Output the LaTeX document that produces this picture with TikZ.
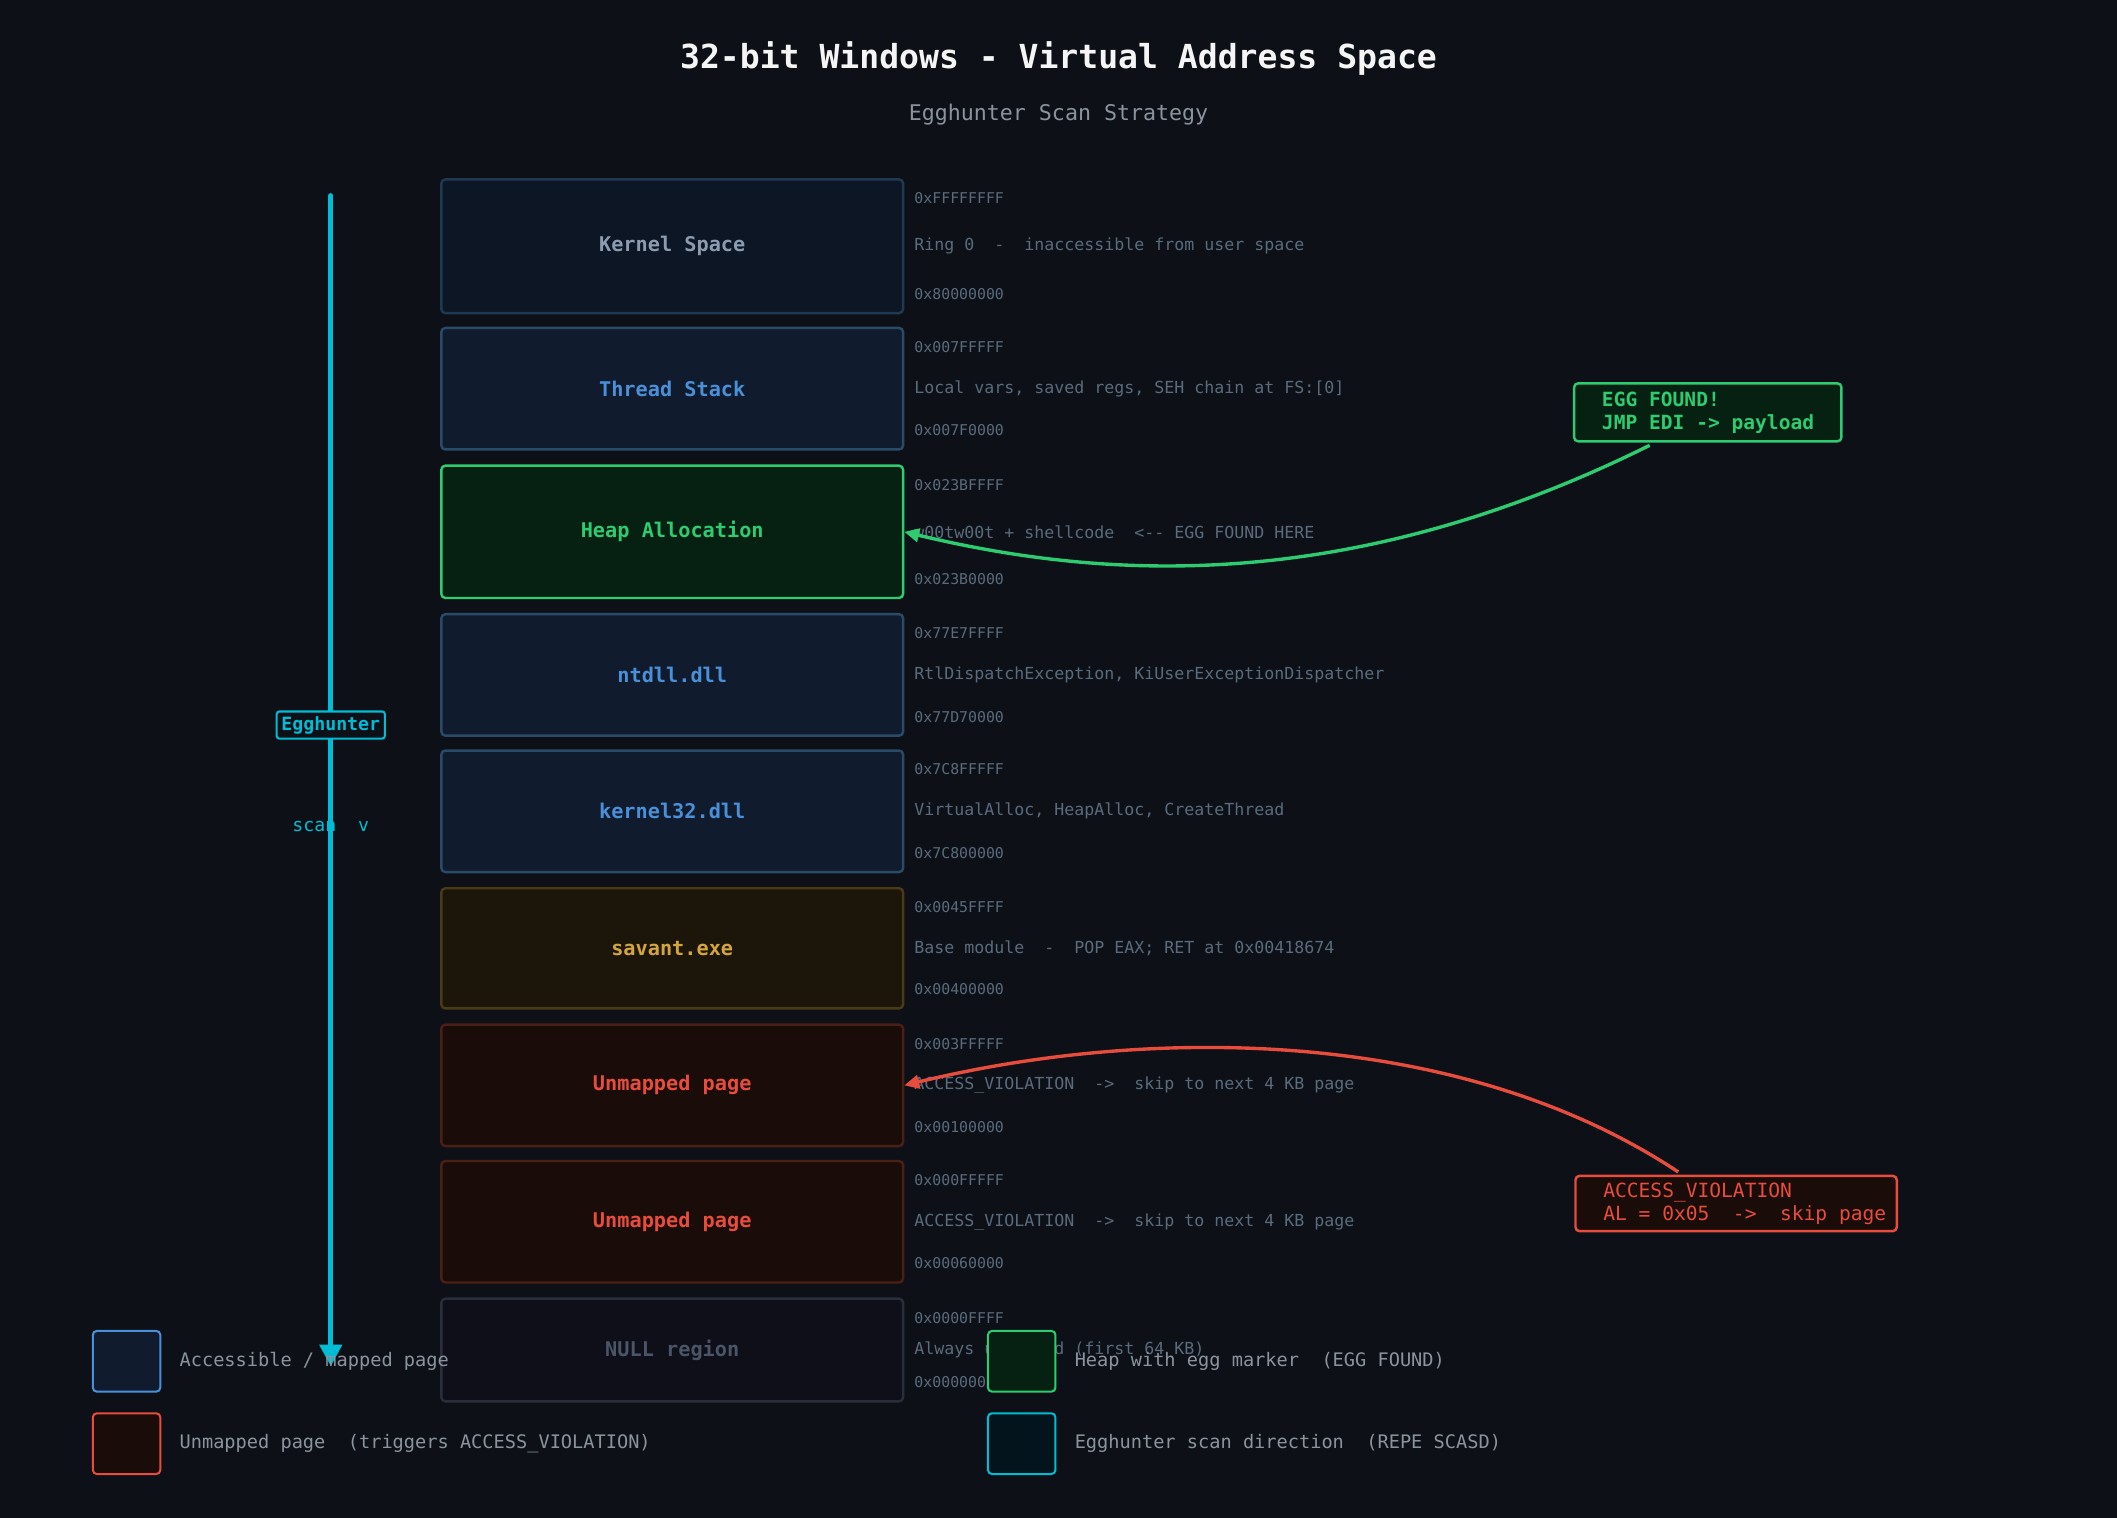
\documentclass[tikz,border=0pt]{standalone}
\usepackage{fontspec}
\setmainfont{DejaVu Sans Mono}
\usetikzlibrary{arrows.meta,calc}
\definecolor{bg}{HTML}{0D1117}
\definecolor{addr}{HTML}{5A6B7D}
\definecolor{cyanc}{HTML}{00BCD4}
\definecolor{greenc}{HTML}{2ECC71}
\definecolor{redc}{HTML}{E74C3C}
\definecolor{bluec}{HTML}{4A90D9}
\definecolor{goldc}{HTML}{D4A53A}
\definecolor{grayt}{HTML}{8B9BB0}
\definecolor{legt}{HTML}{8B949E}
\definecolor{kbd}{HTML}{1E3A52}
\definecolor{kfl}{HTML}{0C1624}
\definecolor{bbd}{HTML}{2A4A6A}
\definecolor{bfl}{HTML}{101C2E}
\definecolor{gfl}{HTML}{062012}
\definecolor{sbd}{HTML}{4A3A15}
\definecolor{sfl}{HTML}{1C160A}
\definecolor{ubd}{HTML}{4A1F14}
\definecolor{ufl}{HTML}{1A0C08}
\definecolor{nbd}{HTML}{2A2D3A}
\definecolor{nfl}{HTML}{0E0F18}
\definecolor{ntx}{HTML}{4A5568}
\definecolor{cfl}{HTML}{04141C}
\tikzset{
 seg/.style={draw=#1, line width=1.8pt, rounded corners=3pt, anchor=north west, minimum width=342pt, inner sep=0pt},
 lbl/.style={font=\bfseries\fontsize{15}{17}\selectfont},
 ad/.style={anchor=west, text=addr, font=\fontsize{11}{13}\selectfont},
 ds/.style={anchor=west, text=addr, font=\fontsize{12.3}{14}\selectfont},
 leg/.style={draw=#1, line width=1.5pt, rounded corners=3pt, minimum width=50pt, minimum height=45pt, anchor=north west},
 lt/.style={anchor=west, text=legt, font=\fontsize{13.8}{16}\selectfont},
}
\newcommand{\seg}[9]{%
 \node[seg=#4, fill=#5, minimum height=#3pt] (#1) at (326,#2) {};
 \node[lbl, text=#6] at (#1.center) {#7};
 \node[ad] at ($(#1.north east)+(4,15)$) {#8};
 \node[ad] at ($(#1.south east)+(4,-15)$) {#9};
}
\begin{document}
\begin{tikzpicture}[x=1pt,y=-1pt]
\fill[bg] (0,0) rectangle (1568,1124);
\useasboundingbox (0,0) rectangle (1568,1124);
\node[text=white!92!gray, font=\bfseries\fontsize{24.5}{28}\selectfont] (title) at (784,43) {32-bit Windows - Virtual Address Space};
\node[text=legt, font=\fontsize{16}{18}\selectfont] (sub) at (784,85) {Egghunter Scan Strategy};

\seg{k}{132}{99}{kbd}{kfl}{grayt}{Kernel Space}{0xFFFFFFFF}{0x80000000}
\seg{ts}{242}{90}{bbd}{bfl}{bluec}{Thread Stack}{0x007FFFFF}{0x007F0000}
\seg{h}{344}{98}{greenc}{gfl}{greenc}{Heap Allocation}{0x023BFFFF}{0x023B0000}
\seg{nt}{454}{90}{bbd}{bfl}{bluec}{ntdll.dll}{0x77E7FFFF}{0x77D70000}
\seg{k32}{555}{90}{bbd}{bfl}{bluec}{kernel32.dll}{0x7C8FFFFF}{0x7C800000}
\seg{sv}{657}{89}{sbd}{sfl}{goldc}{savant.exe}{0x0045FFFF}{0x00400000}
\seg{u1}{758}{90}{ubd}{ufl}{redc}{Unmapped page}{0x003FFFFF}{0x00100000}
\seg{u2}{859}{90}{ubd}{ufl}{redc}{Unmapped page}{0x000FFFFF}{0x00060000}
\seg{nl}{961}{76}{nbd}{nfl}{ntx}{NULL region}{0x0000FFFF}{0x00000000}

\node[ds] at ($(k.east)+(4,0)$) {Ring 0 \ - \ inaccessible from user space};
\node[ds] at ($(ts.east)+(4,0)$) {Local vars, saved regs, SEH chain at FS:[0]};
\node[ds] at ($(h.east)+(4,0)$) {w00tw00t + shellcode \ <-{}- EGG FOUND HERE};
\node[ds] at ($(nt.east)+(4,0)$) {RtlDispatchException, KiUserExceptionDispatcher};
\node[ds] at ($(k32.east)+(4,0)$) {VirtualAlloc, HeapAlloc, CreateThread};
\node[ds] at ($(sv.east)+(4,0)$) {Base module \ - \ POP EAX; RET at 0x00418674};
\node[ds] at ($(u1.east)+(4,0)$) {ACCESS\_VIOLATION \ -> \ skip to next 4 KB page};
\node[ds] at ($(u2.east)+(4,0)$) {ACCESS\_VIOLATION \ -> \ skip to next 4 KB page};
\node[ds] at ($(nl.east)+(4,0)$) {Always unmapped (first 64 KB)};

% scan arrow
\coordinate (st) at (245,145);
\coordinate (en) at (245,1012);
\draw[cyanc, line width=4pt, line cap=round, -{Triangle[length=16pt,width=16pt]}] (st) -- (en);
\node[draw=cyanc, fill=bg, line width=1.5pt, rounded corners=2pt, text=cyanc, font=\bfseries\fontsize{13.5}{15}\selectfont, inner sep=3.5pt] (eh) at (245,537) {Egghunter};
\node[text=cyanc, font=\fontsize{13.5}{15}\selectfont] (sc) at (245,612) {scan \ v};

% callouts
\node[draw=greenc, fill=gfl, line width=1.8pt, rounded corners=3pt, anchor=north west, minimum width=198pt, minimum height=43pt, inner sep=0pt] (eg) at (1165,283) {};
\node[anchor=west, align=left, text=greenc, font=\bfseries\fontsize{14.5}{17}\selectfont] at ($(eg.west)+(18,0)$) {EGG FOUND!\\JMP EDI -> payload};
\draw[greenc, line width=2.5pt, -{Triangle[length=11pt,width=10pt]}] ($(eg.south)+(-43,2)$) .. controls (1000,440) and (820,430) .. (h.east);

\node[draw=redc, fill=ufl, line width=1.8pt, rounded corners=3pt, anchor=north west, minimum width=238pt, minimum height=41pt, inner sep=0pt] (av) at (1166,870) {};
\node[anchor=west, align=left, text=redc, font=\fontsize{14.5}{17}\selectfont] at ($(av.west)+(18,0)$) {ACCESS\_VIOLATION\\AL = 0x05 \ -> \ skip page};
\draw[redc, line width=2.5pt, -{Triangle[length=11pt,width=10pt]}] ($(av.north west)+(77,-2)$) .. controls (1080,760) and (850,760) .. (u1.east);

% legend
\node[leg=bluec, fill=bfl] (l1) at (68,985) {};
\node[lt] at ($(l1.east)+(10,0)$) {Accessible / mapped page};
\node[leg=redc, fill=ufl] (l2) at (68,1046) {};
\node[lt] at ($(l2.east)+(10,0)$) {Unmapped page \ (triggers ACCESS\_VIOLATION)};
\node[leg=greenc, fill=gfl] (l3) at (731,985) {};
\node[lt] at ($(l3.east)+(10,0)$) {Heap with egg marker \ (EGG FOUND)};
\node[leg=cyanc, fill=cfl] (l4) at (731,1046) {};
\node[lt] at ($(l4.east)+(10,0)$) {Egghunter scan direction \ (REPE SCASD)};
\end{tikzpicture}
\end{document}
